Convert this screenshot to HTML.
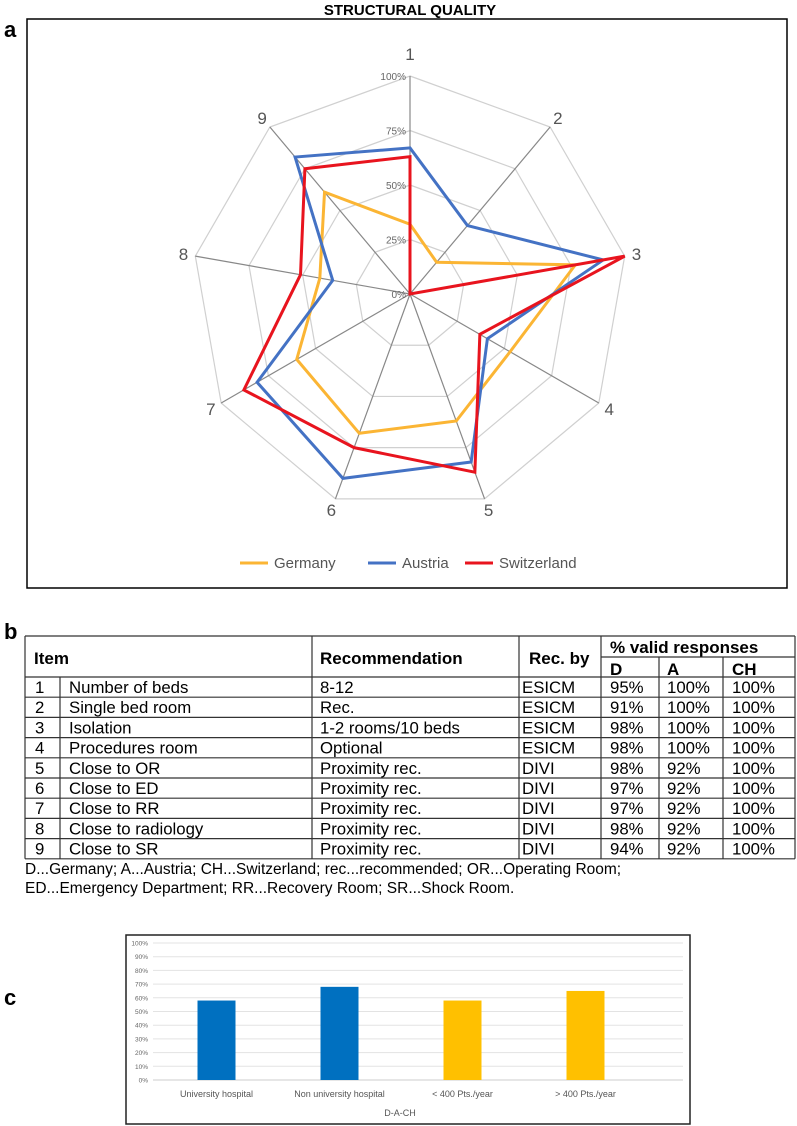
<!DOCTYPE html>
<html><head><meta charset="utf-8"><style>
body{margin:0;background:#fff;width:797px;height:1126px;overflow:hidden;font-family:"Liberation Sans",sans-serif}
svg{position:absolute;left:0;top:0}
</style></head><body>
<svg id="s" width="797" height="1126">
<text x="410" y="15" text-anchor="middle" font-size="15" font-weight="bold">STRUCTURAL QUALITY</text>
<text x="4" y="37" font-size="22" font-weight="bold">a</text>
<rect x="27" y="19" width="760" height="569" fill="none" stroke="#000" stroke-width="1.5"/>
<g id="radar"></g>
<text x="4" y="639" font-size="22" font-weight="bold">b</text>
<g id="table"></g>
<text x="4" y="1005" font-size="22" font-weight="bold">c</text>
<rect x="126" y="935" width="564" height="189" fill="none" stroke="#222" stroke-width="1.5"/>
<g id="bars"></g>
</svg>
<script>
const axes=["1","2","3","4","5","6","7","8","9"];
const germany=[32,19,77,53,62,68,60,42,61];
const austria=[67,41,90,41,82,90,81,36,82];
const switzerland=[63,0,100,37,87,75,88,51,75];
const rTicks=["0%","25%","50%","75%","100%"];
const barCats=["University hospital","Non university hospital","< 400 Pts./year","> 400 Pts./year"];
const barVals=[58,68,58,65];
const barColors=["#0070c0","#0070c0","#ffc000","#ffc000"];
const yTicks=[0,10,20,30,40,50,60,70,80,90,100];
const NS="http://www.w3.org/2000/svg";
function mk(p,t,a){const e=document.createElementNS(NS,t);for(const k in a)e.setAttribute(k,a[k]);p.appendChild(e);return e;}
// radar
const R=document.getElementById('radar');const cx=410,cy=294,rad=218;
function pt(i,v){const a=i*2*Math.PI/9;return [cx+rad*v/100*Math.sin(a),cy-rad*v/100*Math.cos(a)];}
for(let k=1;k<=4;k++){const ps=axes.map((_,i)=>pt(i,k*25).join(',')).join(' ');
const g=mk(R,'polygon',{points:ps,fill:'none',stroke:'#d0d0d0','stroke-width':1.2});

}
axes.forEach((a,i)=>{const p=pt(i,100);const l=mk(R,'line',{x1:cx,y1:cy,x2:p[0],y2:p[1],stroke:'#888','stroke-width':1.2});


const ang=i*2*Math.PI/9;const s=Math.sin(ang),c=Math.cos(ang);
const lx=p[0]+12*s, ly=p[1]-12*c-(c>0.9?10:0);
const t=mk(R,'text',{x:lx,y:ly+6,'text-anchor':'middle','font-size':17,fill:'#555'});t.textContent=a;

});
rTicks.forEach((s,k)=>{const t=mk(R,'text',{x:cx-4,y:cy-rad*k/4+4,'text-anchor':'end','font-size':10,fill:'#666'});t.textContent=s;

});
[[germany,'#fbb534','germany'],[austria,'#4472c4','austria'],[switzerland,'#e8141e','switzerland']].forEach(([d,c,n])=>{
const l=mk(R,'polygon',{points:d.map((v,i)=>pt(i,v).join(',')).join(' '),fill:'none',stroke:c,'stroke-width':3,'stroke-linejoin':'miter'});

});
[['Germany','#fbb534',240],['Austria','#4472c4',368],['Switzerland','#e8141e',465]].forEach(([n,c,x])=>{
const l=mk(R,'line',{x1:x,y1:563,x2:x+28,y2:563,stroke:c,'stroke-width':3});


const t=mk(R,'text',{x:x+34,y:568,'font-size':15,fill:'#555'});t.textContent=n;

});
// table
const T=document.getElementById('table');
const rows=[["1","Number of beds","8-12","ESICM","95%","100%","100%"],["2","Single bed room","Rec.","ESICM","91%","100%","100%"],["3","Isolation","1-2 rooms/10 beds","ESICM","98%","100%","100%"],["4","Procedures room","Optional","ESICM","98%","100%","100%"],["5","Close to OR","Proximity rec.","DIVI","98%","92%","100%"],["6","Close to ED","Proximity rec.","DIVI","97%","92%","100%"],["7","Close to RR","Proximity rec.","DIVI","97%","92%","100%"],["8","Close to radiology","Proximity rec.","DIVI","98%","92%","100%"],["9","Close to SR","Proximity rec.","DIVI","94%","92%","100%"]];
const tTop=636,hb=677,rh=20.2;
function ln(x1,y1,x2,y2){const l=mk(T,'line',{x1:x1,y1:y1,x2:x2,y2:y2,stroke:'#333','stroke-width':1.2});}
ln(25,tTop,795,tTop);ln(25,hb,795,hb);ln(601,657,795,657);
for(let r=1;r<=9;r++)ln(25,hb+r*rh,795,hb+r*rh);
ln(25,tTop,25,hb+9*rh);ln(795,tTop,795,hb+9*rh);
[312,519,601].forEach(x=>ln(x,tTop,x,hb+9*rh));ln(60,hb,60,hb+9*rh);[659,723].forEach(x=>ln(x,657,x,hb+9*rh));
function tx(x,y,s,b,fs){const t=mk(T,'text',{x:x,y:y,'font-size':fs||(b?17:16.8),'font-weight':b?'bold':'normal'});t.textContent=s;}
tx(34,664,'Item',1);tx(320,664,'Recommendation',1);tx(529,664,'Rec. by',1);tx(610,653,'% valid responses',1);tx(610,675,'D',1);tx(667,675,'A',1);tx(732,675,'CH',1);
const cx2=[35,69,320,522,610,667,732];
rows.forEach((r,i)=>r.forEach((s,j)=>tx(cx2[j],hb+i*rh+16,s,0)));
tx(25,874,'D...Germany; A...Austria; CH...Switzerland; rec...recommended; OR...Operating Room;',0,15.5);
tx(25,893,'ED...Emergency Department; RR...Recovery Room; SR...Shock Room.',0,15.5);
// bars
const B=document.getElementById('bars');const y0=1080,y100=943,xl=153,xr=683,bandL=155,bandW=123;
const ys=v=>y0-(y0-y100)*v/100;
yTicks.forEach(v=>{const l=mk(B,'line',{x1:xl,y1:ys(v),x2:xr,y2:ys(v),stroke:v?'#e3e3e3':'#ccc','stroke-width':1});


const t=mk(B,'text',{x:148,y:ys(v)+2.5,'text-anchor':'end','font-size':6.5,fill:'#666'});t.textContent=v+'%';

});
barCats.forEach((c,i)=>{const xc=bandL+bandW*(i+0.5);
const r=mk(B,'rect',{x:xc-19,y:ys(barVals[i]),width:38,height:y0-ys(barVals[i]),fill:barColors[i]});


const t=mk(B,'text',{x:xc,y:1097,'text-anchor':'middle','font-size':9,fill:'#555'});t.textContent=c;

});
const xt=mk(B,'text',{x:400,y:1116,'text-anchor':'middle','font-size':9,fill:'#555'});xt.textContent='D-A-CH';


</script>
</body></html>
